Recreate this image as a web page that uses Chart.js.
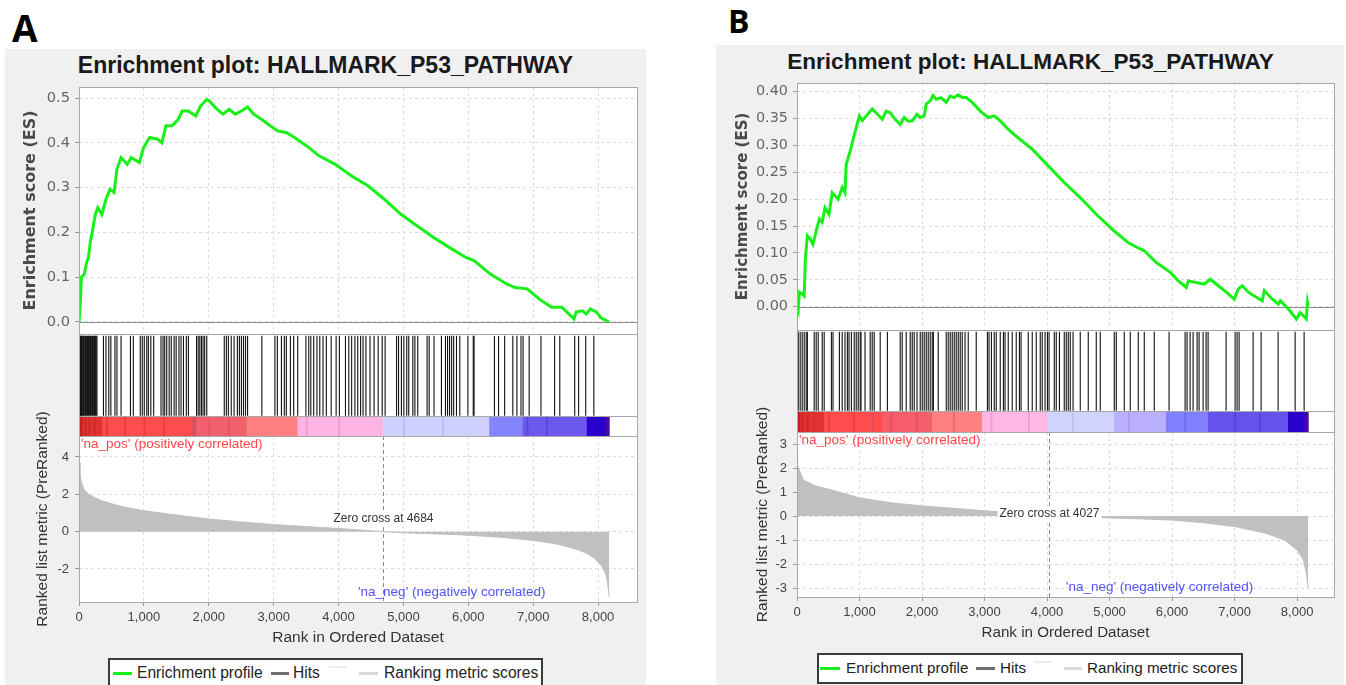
<!DOCTYPE html>
<html>
<head>
<meta charset="utf-8">
<script src="https://cdn.jsdelivr.net/npm/chart.js@4/dist/chart.umd.min.js"></script>
<style>
  body { margin: 0; width: 1346px; height: 685px; background: #fff; position: relative; overflow: hidden;
         font-family: "Liberation Sans", Arial, sans-serif; }
  .panel { position: absolute; background: #f0f0f0; }
  .tag { position: absolute; font-family: "Open Sans", sans-serif; font-weight: bold; color: #000; line-height: 1; }
  .title { position: absolute; font-weight: bold; color: #1a1a1a; white-space: nowrap; transform: translate(-50%, -50%); }
  canvas { position: absolute; }
  .legend { position: absolute; background: #fff; border: 2px solid #3a3a3a; }
  .legend i { position: absolute; display: block; }
  .legend span { position: absolute; top: 0; line-height: 26px; color: #222; white-space: nowrap; }
</style>
</head>
<body>
<div class="panel" style="left:5px;top:49px;width:641px;height:640px"></div>
<div class="panel" style="left:716px;top:45px;width:628px;height:645px"></div>
<div class="tag" style="left:12px;top:9px;font-size:37px">A</div>
<div class="tag" style="left:728px;top:5px;font-size:32px">B</div>
<div class="title" style="left:325.5px;top:65px;font-size:23px">Enrichment plot: HALLMARK_P53_PATHWAY</div>
<div class="title" style="left:1030.5px;top:62px;font-size:22.6px">Enrichment plot: HALLMARK_P53_PATHWAY</div>

<div class="legend" style="left:108px;top:658px;width:431px;height:30px;font-size:15.6px">
  <i style="left:3px;top:12px;width:19px;height:3px;background:#19f019"></i><span style="left:27px">Enrichment profile</span>
  <i style="left:161px;top:12px;width:18px;height:3px;background:#6e6e6e"></i><span style="left:183px">Hits</span>
  <i style="left:219px;top:6px;width:18px;height:2px;background:#ececec"></i>
  <i style="left:249px;top:12px;width:19px;height:3px;background:#dadada"></i><span style="left:274px">Ranking metric scores</span>
</div>
<div class="legend" style="left:817px;top:653px;width:422px;height:27px;font-size:15.2px">
  <i style="left:1px;top:12px;width:20px;height:3px;background:#19f019"></i><span style="left:27px">Enrichment profile</span>
  <i style="left:157px;top:12px;width:19px;height:3px;background:#6e6e6e"></i><span style="left:181px">Hits</span>
  <i style="left:215px;top:6px;width:18px;height:2px;background:#ececec"></i>
  <i style="left:245px;top:12px;width:18px;height:3px;background:#dadada"></i><span style="left:268px">Ranking metric scores</span>
</div>

<script>
// shared rank axis ticks
const rankTicks = [0, 1000, 2000, 3000, 4000, 5000, 6000, 7000, 8000];

// ---- panel A: running enrichment score ----
const esTicksA = [0, 0.1, 0.2, 0.3, 0.4, 0.5];
const esRankA = [0, 19, 38, 82, 113, 145, 176, 208, 252, 289, 352, 415, 478, 541, 585, 648, 742, 805, 931, 994,
  1088, 1214, 1277, 1340, 1434, 1528, 1591, 1686, 1799, 1874, 1969, 2013, 2126, 2220, 2315, 2409, 2503, 2598,
  2692, 2818, 2944, 3070, 3195, 3321, 3510, 3699, 3950, 4202, 4453, 4705, 4957, 5208, 5460, 5711, 5963, 6089,
  6340, 6592, 6718, 6907, 7095, 7284, 7441, 7630, 7661, 7756, 7819, 7882, 7976, 8039, 8170];
const esScoreA = [0, 0.04, 0.10, 0.107, 0.13, 0.144, 0.18, 0.204, 0.24, 0.255, 0.24, 0.274, 0.296, 0.289, 0.341,
  0.367, 0.352, 0.367, 0.356, 0.389, 0.412, 0.408, 0.40, 0.438, 0.438, 0.452, 0.471, 0.471, 0.46, 0.482, 0.497,
  0.493, 0.475, 0.464, 0.475, 0.464, 0.471, 0.48, 0.464, 0.452, 0.438, 0.426, 0.423, 0.412, 0.393, 0.371, 0.352,
  0.326, 0.304, 0.274, 0.241, 0.215, 0.189, 0.166, 0.144, 0.137, 0.107, 0.085, 0.077, 0.074, 0.051, 0.033, 0.033,
  0.007, 0.022, 0.025, 0.018, 0.029, 0.022, 0.010, 0];

// gene set members (rank positions)
const hitRankA = [10, 19, 25, 38, 50, 63, 70, 88, 100, 113, 130, 145, 160, 176, 190, 208, 226, 240, 252, 265, 277,
  377, 415, 459, 491, 554, 585, 648, 793, 837, 944, 975, 1006, 1044, 1069, 1107, 1151, 1264, 1296, 1321, 1352, 1390,
  1422, 1466, 1497, 1541, 1573, 1610, 1654, 1686, 1812, 1837, 1862, 1887, 1912, 1937, 1969, 2239, 2271, 2302, 2346,
  2390, 2441, 2472, 2503, 2535, 2566, 2598, 2818, 3019, 3057, 3120, 3164, 3195, 3258, 3309, 3371, 3497, 3541, 3573,
  3617, 3667, 3711, 3761, 3812, 3887, 3963, 4013, 4107, 4158, 4202, 4252, 4296, 4340, 4378, 4422, 4485, 4548, 4611,
  4673, 4718, 4894, 4925, 4969, 5007, 5051, 5082, 5145, 5177, 5221, 5365, 5397, 5472, 5586, 5648, 5680, 5711, 5743,
  5774, 5818, 5869, 5994, 6076, 6089, 6403, 6466, 6560, 6686, 6749, 6812, 6844, 6938, 7120, 7330, 7410, 7640, 7700,
  7810, 7935];

// ranked list metric
const metricTicksA = [-2, 0, 2, 4];
const metricRankA = [0, 15, 40, 80, 150, 250, 400, 600, 800, 1000, 1300, 1600, 2000, 2500, 3000, 3500, 4000, 4400,
  4684, 5000, 5500, 6000, 6500, 7000, 7300, 7500, 7700, 7850, 7950, 8050, 8110, 8140, 8160, 8170];
const metricValueA = [3.7, 3.1, 2.6, 2.25, 2.0, 1.8, 1.6, 1.4, 1.25, 1.12, 0.98, 0.85, 0.68, 0.52, 0.38, 0.27, 0.17,
  0.07, 0, -0.06, -0.12, -0.19, -0.3, -0.47, -0.62, -0.78, -0.98, -1.2, -1.45, -1.8, -2.2, -2.6, -3.1, -3.5];

// heat strip under the hits: base bands, then darker stripes
const bandStartA = [0, 365, 1749, 2566, 3371, 4686, 6328, 6843, 7831,
  20, 90, 150, 230, 420, 700, 1000, 1300, 1750, 2000, 2300, 2560, 3500, 4000, 5000, 5600, 6900, 7200, 8120];
const bandEndA = [365, 1749, 2566, 3371, 4686, 6328, 6843, 7831, 8170,
  50, 110, 170, 250, 440, 720, 1020, 1320, 1800, 2020, 2320, 2580, 3520, 4020, 5020, 5620, 6920, 7220, 8170];
const bandColorA = ['#e23232', '#ff4d4d', '#f2606e', '#ff8080', '#ffb4e4', '#d0d0ff', '#8484ff', '#6c58ec', '#2a00cc',
  '#c81e1e', '#c82828', '#d02828', '#d02828', '#e03a3a', '#e84040', '#e84040', '#e84040', '#d85060', '#e05868',
  '#e05868', '#e06a6a', '#e8a0d0', '#e8a0d0', '#bcbcf0', '#bcbcf0', '#5a48dc', '#5a48dc', '#4a0aa0'];
const zeroCrossA = 4684;

// ---- panel B ----
const esTicksB = [0, 0.05, 0.1, 0.15, 0.2, 0.25, 0.3, 0.35, 0.4];
const esRankB = [0, 19, 38, 83, 115, 134, 166, 211, 256, 307, 358, 403, 448, 512, 563, 659, 723, 768, 787, 851, 896,
  947, 998, 1043, 1107, 1203, 1286, 1363, 1427, 1491, 1568, 1651, 1715, 1779, 1843, 1920, 1971, 2035, 2067, 2131,
  2176, 2227, 2304, 2387, 2451, 2515, 2579, 2643, 2707, 2803, 2931, 3059, 3155, 3251, 3379, 3571, 3763, 4019, 4275,
  4531, 4787, 5043, 5299, 5427, 5555, 5747, 5971, 6099, 6227, 6259, 6387, 6515, 6611, 6739, 6867, 6995, 7059, 7123,
  7219, 7315, 7443, 7475, 7603, 7699, 7731, 7859, 7987, 8051, 8147, 8166, 8176];
const esScoreB = [0, -0.007, 0.027, 0.024, 0.02, 0.089, 0.132, 0.126, 0.116, 0.141, 0.163, 0.157, 0.184, 0.172,
  0.212, 0.200, 0.222, 0.212, 0.265, 0.29, 0.311, 0.333, 0.355, 0.346, 0.355, 0.368, 0.358, 0.349, 0.364, 0.361,
  0.349, 0.339, 0.352, 0.345, 0.346, 0.358, 0.352, 0.355, 0.377, 0.383, 0.393, 0.386, 0.389, 0.38, 0.392, 0.389,
  0.394, 0.389, 0.389, 0.38, 0.364, 0.352, 0.355, 0.346, 0.330, 0.311, 0.293, 0.262, 0.231, 0.203, 0.172, 0.144,
  0.119, 0.111, 0.104, 0.082, 0.064, 0.048, 0.036, 0.048, 0.045, 0.042, 0.051, 0.039, 0.027, 0.014, 0.033, 0.039,
  0.027, 0.020, 0.011, 0.030, 0.014, 0.005, 0.011, -0.004, -0.023, -0.011, -0.023, 0.008, 0.002];

const hitRankB = [20, 51, 83, 115, 147, 166, 275, 307, 339, 403, 435, 550, 576, 678, 723, 768, 806, 832, 870, 915,
  947, 979, 1011, 1024, 1088, 1171, 1203, 1235, 1331, 1446, 1651, 1683, 1747, 1811, 1843, 1875, 1920, 1971, 2003,
  2035, 2067, 2099, 2131, 2163, 2182, 2259, 2387, 2419, 2451, 2483, 2515, 2547, 2579, 2611, 2643, 2688, 2739, 2867,
  3046, 3072, 3110, 3155, 3187, 3251, 3302, 3328, 3379, 3443, 3507, 3558, 3584, 3699, 3763, 3827, 3891, 3923, 3968,
  4006, 4032, 4115, 4147, 4198, 4275, 4307, 4339, 4371, 4416, 4531, 4659, 4787, 4851, 5075, 5107, 5235, 5331, 5459,
  5555, 5715, 5952, 6208, 6240, 6288, 6336, 6400, 6432, 6496, 6544, 6576, 6864, 7008, 7040, 7072, 7296, 7424, 7696,
  7968, 8112];

const metricTicksB = [-3, -2, -1, 0, 1, 2, 3];
const metricRankB = [0, 10, 50, 100, 300, 500, 1000, 1500, 2000, 2500, 3000, 3500, 4027, 4500, 5000, 5500, 6000,
  6500, 7000, 7500, 7800, 8000, 8100, 8150, 8176];
const metricValueB = [2.4, 2.1, 1.83, 1.5, 1.25, 1.12, 0.76, 0.55, 0.42, 0.32, 0.22, 0.12, 0, -0.04, -0.08, -0.12,
  -0.17, -0.28, -0.44, -0.72, -1.0, -1.42, -1.83, -2.4, -3.0];

const bandStartB = [0, 435, 1363, 2163, 2963, 4019, 5075, 5907, 6579, 7859,
  15, 80, 160, 260, 500, 900, 1200, 1500, 1900, 2100, 2500, 3100, 3700, 4400, 5300, 6200, 7000, 7400, 8130];
const bandEndB = [435, 1363, 2163, 2963, 4019, 5075, 5907, 6579, 7859, 8176,
  45, 100, 180, 280, 520, 920, 1220, 1520, 1930, 2120, 2520, 3120, 3720, 4420, 5320, 6220, 7020, 7420, 8176];
const bandColorB = ['#e23232', '#ff4d4d', '#f65c6a', '#ff8080', '#ffb8e6', '#d2d2ff', '#bab0ff', '#8080ff', '#6452ea',
  '#2a00cc', '#c81e1e', '#c82828', '#d02828', '#d83030', '#e84040', '#e84040', '#e05060', '#e05060', '#e05868',
  '#e86a6a', '#e86a6a', '#e8a0d0', '#e8a0d0', '#c0c0f0', '#a89ef0', '#6c6cf0', '#5444d8', '#5444d8', '#4a0aa0'];
const zeroCrossB = 4027;

const posLabel = "'na_pos' (positively correlated)";
const negLabel = "'na_neg' (negatively correlated)";

Chart.defaults.font.family = '"Liberation Sans", Arial, sans-serif';
Chart.defaults.animation = false;
Chart.defaults.events = [];
Chart.defaults.plugins.legend.display = false;
Chart.defaults.plugins.tooltip.enabled = false;

// white plot background and grey frame around each chart area
const plotBox = {
  id: 'plotBox',
  beforeDraw(chart) {
    const a = chart.chartArea, ctx = chart.ctx;
    ctx.save();
    ctx.fillStyle = '#ffffff';
    ctx.fillRect(a.left, a.top, a.right - a.left, a.bottom - a.top);
    ctx.restore();
  },
  afterDraw(chart) {
    const a = chart.chartArea, ctx = chart.ctx;
    ctx.save();
    ctx.strokeStyle = '#a8a8a8';
    ctx.lineWidth = 1;
    ctx.strokeRect(Math.round(a.left) + 0.5, Math.round(a.top) + 0.5,
      Math.round(a.right - a.left), Math.round(a.bottom - a.top));
    ctx.restore();
  }
};

// solid baseline at ES = 0
const zeroRule = {
  id: 'zeroRule',
  beforeDatasetsDraw(chart) {
    const a = chart.chartArea, ctx = chart.ctx;
    const y = Math.round(chart.scales.y.getPixelForValue(0)) + 0.5;
    ctx.save();
    ctx.strokeStyle = '#8c8c8c';
    ctx.lineWidth = 1;
    ctx.beginPath();
    ctx.moveTo(a.left, y);
    ctx.lineTo(a.right, y);
    ctx.stroke();
    ctx.restore();
  }
};

// zero-cross marker and the class labels on the metric plot
const metricNotes = {
  id: 'metricNotes',
  afterDatasetsDraw(chart, args, o) {
    const {ctx, chartArea: a, scales: {x, y}} = chart;
    const cx = Math.round(x.getPixelForValue(o.cross)) + 0.5;
    ctx.save();
    ctx.strokeStyle = '#8a8a8a';
    ctx.lineWidth = 1;
    ctx.setLineDash([4, 3]);
    ctx.beginPath();
    ctx.moveTo(cx, a.top);
    ctx.lineTo(cx, a.bottom);
    ctx.stroke();
    ctx.setLineDash([]);

    const label = 'Zero cross at ' + o.cross;
    ctx.font = '12px "Liberation Sans", Arial, sans-serif';
    ctx.textAlign = 'center';
    ctx.textBaseline = 'middle';
    const w = ctx.measureText(label).width;
    const ty = y.getPixelForValue(o.crossY);
    ctx.fillStyle = '#ffffff';
    ctx.fillRect(cx - w / 2 - 2, ty - 7, w + 4, 14);
    ctx.fillStyle = '#333333';
    ctx.fillText(label, cx, ty);

    ctx.font = '13.5px "Liberation Sans", Arial, sans-serif';
    ctx.textAlign = 'left';
    ctx.fillStyle = '#ff4646';
    ctx.fillText(posLabel, a.left + 2, a.top + 8);
    ctx.fillStyle = '#5252ff';
    ctx.fillText(negLabel, x.getPixelForValue(o.negAt), a.bottom - 10);
    ctx.restore();
  }
};

function addCanvas(x, y, w, h) {
  const c = document.createElement('canvas');
  c.width = w;
  c.height = h;
  c.style.left = x + 'px';
  c.style.top = y + 'px';
  document.body.appendChild(c);
  return c;
}

const pairs = (xs, ys) => xs.map((v, i) => ({x: v, y: ys[i]}));
const fixedTicks = values => scale => { scale.ticks = values.map(v => ({value: v})); };
const gridLine = {color: '#dcdcdc', tickLength: 4, tickColor: '#9a9a9a'};
const dashed = {display: false, dash: [3, 3]};

function buildPanel(p) {
  const axisW = p.plotL - p.x;
  const width = p.plotR + 20 - p.x;

  // running enrichment score
  new Chart(addCanvas(p.x, p.esTop - 20, width, p.esBot - p.esTop + 40), {
    type: 'line',
    data: {datasets: [{data: pairs(p.esRank, p.esScore), borderColor: '#19f019', borderWidth: 3,
      pointRadius: 0, tension: 0}]},
    options: {
      responsive: false,
      layout: {padding: {top: 20, right: 20, bottom: 20, left: 0}},
      scales: {
        x: {type: 'linear', min: 0, max: p.xMax, afterBuildTicks: fixedTicks(rankTicks),
          ticks: {display: false},
          grid: {color: '#dcdcdc', drawTicks: false}, border: dashed,
          afterFit: s => { s.height = 0; }},
        y: {min: p.esMin, max: p.esMax, afterBuildTicks: fixedTicks(p.esTicks),
          ticks: {padding: 5, color: '#666',
            font: {family: '"DejaVu Sans"', size: p.esTickSize},
            callback: v => v.toFixed(p.esDigits)},
          grid: gridLine, border: dashed,
          title: {display: true, text: 'Enrichment score (ES)', color: '#4a4a4a',
            font: {family: '"DejaVu Sans"', weight: 'bold', size: p.esTitleSize},
            padding: {top: p.esTitlePad, bottom: 0}},
          afterFit: s => { s.width = axisW; }}
      }
    },
    plugins: [plotBox, zeroRule]
  });

  // hit positions
  new Chart(addCanvas(p.x, p.esBot, width, p.hitBot - p.esBot), {
    type: 'scatter',
    data: {datasets: [{data: p.hits.map(r => ({x: r, y: 0.49})), pointStyle: 'line', pointRotation: 90,
      pointRadius: (p.hitBot - p.esBot - 2) / 2, pointBorderWidth: 1.1, pointBorderColor: '#111', clip: false}]},
    options: {
      responsive: false,
      layout: {autoPadding: false, padding: {top: 0, right: 20, bottom: 0, left: axisW}},
      scales: {x: {type: 'linear', min: 0, max: p.xMax, display: false},
               y: {min: 0, max: 1, display: false}}
    },
    plugins: [plotBox]
  });

  // colour strip of the ranked list
  new Chart(addCanvas(p.x, p.hitBot, width, p.barBot - p.hitBot), {
    type: 'bar',
    data: {labels: ['rank'], datasets: [{
      data: p.bandStart.map((s, i) => ({x: [s, p.bandEnd[i]], y: 'rank'})),
      backgroundColor: p.bandColor, borderWidth: 0, barPercentage: 1, categoryPercentage: 1}]},
    options: {
      indexAxis: 'y',
      responsive: false,
      layout: {autoPadding: false, padding: {top: 0, right: 20, bottom: 0, left: axisW}},
      scales: {x: {type: 'linear', min: 0, max: p.xMax, display: false},
               y: {display: false}}
    },
    plugins: [plotBox]
  });

  // ranked list metric (canvas starts higher so the long axis title fits)
  new Chart(addCanvas(p.x, p.barBot - 50, width, p.metBot - p.barBot + 50 + 48), {
    type: 'line',
    data: {datasets: [{data: pairs(p.metricRank, p.metricValue), borderColor: '#c0c0c0', borderWidth: 1,
      backgroundColor: '#c0c0c0', fill: 'origin', pointRadius: 0, tension: 0}]},
    options: {
      responsive: false,
      layout: {padding: {top: 50, right: 20, bottom: 0, left: 0}},
      scales: {
        x: {type: 'linear', min: 0, max: p.xMax, afterBuildTicks: fixedTicks(rankTicks),
          ticks: {padding: 4, color: '#444', maxRotation: 0, autoSkip: false,
            font: {size: 13}, callback: v => v.toLocaleString('en-US')},
          grid: gridLine, border: dashed,
          title: {display: true, text: 'Rank in Ordered Dataset', color: '#333',
            font: {size: p.xTitleSize}, padding: {top: 0, bottom: 3}},
          afterFit: s => { s.height = 48; }},
        y: {min: p.metMin, max: p.metMax, afterBuildTicks: fixedTicks(p.metricTicks),
          ticks: {padding: 6, color: '#444', font: {size: 13}},
          grid: gridLine, border: dashed,
          title: {display: true, text: 'Ranked list metric (PreRanked)', color: '#333',
            font: {size: 15.5}, padding: {top: p.metTitlePad, bottom: 0}},
          afterFit: s => { s.width = axisW; }}
      },
      plugins: {metricNotes: {cross: p.cross, crossY: p.crossY, negAt: 4300}}
    },
    plugins: [plotBox, metricNotes]
  });
}

buildPanel({
  x: 5, plotL: 79, plotR: 637, esTop: 87, esBot: 334, hitBot: 416, barBot: 436, metBot: 602, xMax: 8600,
  esRank: esRankA, esScore: esScoreA, hits: hitRankA,
  metricRank: metricRankA, metricValue: metricValueA, metricTicks: metricTicksA,
  bandStart: bandStartA, bandEnd: bandEndA, bandColor: bandColorA,
  esTicks: esTicksA, esMin: -0.0268, esMax: 0.5246, esDigits: 1, esTickSize: 14.7, esTitleSize: 16, esTitlePad: 16.4,
  metMin: -3.77, metMax: 5.125, metTitlePad: 28.7, xTitleSize: 15.5,
  cross: zeroCrossA, crossY: 0.7
});

buildPanel({
  x: 716, plotL: 797, plotR: 1334, esTop: 83, esBot: 330, hitBot: 411, barBot: 432, metBot: 597, xMax: 8590,
  esRank: esRankB, esScore: esScoreB, hits: hitRankB,
  metricRank: metricRankB, metricValue: metricValueB, metricTicks: metricTicksB,
  bandStart: bandStartB, bandEnd: bandEndB, bandColor: bandColorB,
  esTicks: esTicksB, esMin: -0.0434, esMax: 0.4162, esDigits: 2, esTickSize: 14.4, esTitleSize: 15, esTitlePad: 18,
  metMin: -3.375, metMax: 3.5, metTitlePad: 37.2, xTitleSize: 15.2,
  cross: zeroCrossB, crossY: 0.1
});
</script>
</body>
</html>
